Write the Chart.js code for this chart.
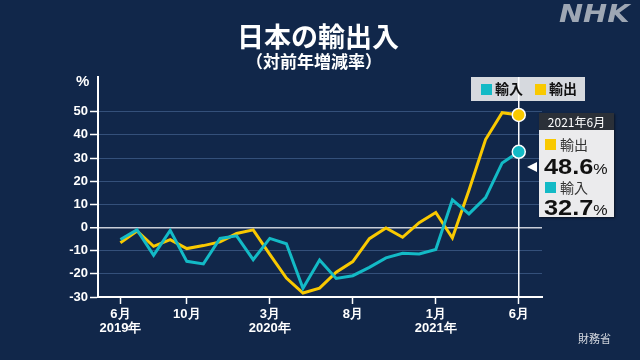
<!DOCTYPE html>
<html>
<head>
<meta charset="utf-8">
<script src="https://cdn.jsdelivr.net/npm/chart.js@4.4.0/dist/chart.umd.min.js"></script>
<style>
  body { margin: 0; width: 640px; height: 360px; overflow: hidden; position: relative;
         background: #11274a; color: #fff;
         font-family: "Liberation Sans", "Noto Sans CJK JP", sans-serif; }
  #chart { position: absolute; left: 0; top: 0; }
  .abs { position: absolute; white-space: nowrap; line-height: 1; }
  #title { left: 237px; top: 22px; font-size: 27px; font-weight: bold; font-family: "Noto Sans CJK JP", sans-serif; }
  #subtitle { left: 246px; top: 52px; font-size: 17px; font-weight: bold; font-family: "Noto Sans CJK JP", sans-serif; }
  #nhk { left: 559px; top: 2px; font-size: 24px; font-weight: bold; font-style: italic; color: #9ea7b4;
         font-family: "DejaVu Sans", sans-serif; transform: scaleX(1.2); transform-origin: left top; }
  #unit { left: 76px; top: 73px; font-size: 15px; font-weight: bold; }
  #source { left: 578px; top: 333px; font-size: 11px; color: #d3d7de; font-family: "Noto Sans CJK JP", sans-serif; }
  .sq { position: absolute; width: 11px; height: 11px; }
  .lg { position: absolute; font-size: 14px; font-weight: bold; color: #111; font-family: "Noto Sans CJK JP", sans-serif; line-height: 1; }
  #tip { left: 539px; top: 113px; width: 75px; height: 104px; background: #ebebed;
         box-shadow: 1px 1px 2px rgba(0,0,0,0.5); }
  #tipHead { position: absolute; left: 0; top: 0; width: 75px; height: 17px; background: #2b3038;
             color: #fff; font-size: 12px; text-align: center; line-height: 17px; font-family: "Noto Sans CJK JP", sans-serif; }
  .tl { position: absolute; left: 21px; font-size: 14px; color: #333; font-family: "Noto Sans CJK JP", sans-serif; line-height: 1; }
  .tv { position: absolute; left: 5px; font-size: 22px; font-weight: bold; color: #111; line-height: 1;
        transform: scaleX(1.15); transform-origin: left top; }
  .tv small { font-size: 14px; font-weight: normal; }
</style>
</head>
<body>
<canvas id="chart" width="640" height="360"></canvas>
<div class="abs" id="title">日本の輸出入</div>
<div class="abs" id="subtitle">（対前年増減率）</div>
<div class="abs" id="nhk">NHK</div>
<div class="abs" id="unit">%</div>
<div class="abs" id="source">財務省</div>

<div class="sq" style="left:481px;top:84px;background:#13bac6"></div>
<div class="lg" style="left:495px;top:81px">輸入</div>
<div class="sq" style="left:535px;top:84px;background:#f9c900"></div>
<div class="lg" style="left:549px;top:81px">輸出</div>

<div class="abs" id="tip">
  <div id="tipHead">2021年6月</div>
  <div class="sq" style="left:6px;top:26px;background:#f9c900"></div>
  <div class="tl" style="top:24px">輸出</div>
  <div class="tv" id="tipExp" style="top:43px"></div>
  <div class="sq" style="left:6px;top:69px;background:#13bac6"></div>
  <div class="tl" style="top:67px">輸入</div>
  <div class="tv" id="tipImp" style="top:84px"></div>
</div>

<script>
const months = [
  '2019年6月', '2019年7月', '2019年8月', '2019年9月', '2019年10月', '2019年11月', '2019年12月',
  '2020年1月', '2020年2月', '2020年3月', '2020年4月', '2020年5月', '2020年6月', '2020年7月',
  '2020年8月', '2020年9月', '2020年10月', '2020年11月', '2020年12月',
  '2021年1月', '2021年2月', '2021年3月', '2021年4月', '2021年5月', '2021年6月',
];

// 輸出 (exports), year-on-year %
const exportsYoY = [
  -6.6, -1.5, -8.1, -5.2, -9.1, -7.8, -6.2, -2.6, -1.0, -11.6, -21.8, -28.3, -26.2,
  -19.3, -14.7, -4.8, -0.2, -4.2, 2.1, 6.5, -4.5, 16.1, 38.0, 49.6, 48.6,
];

// 輸入 (imports), year-on-year %
const importsYoY = [
  -5.2, -1.0, -12.0, -1.2, -14.6, -15.7, -4.7, -3.6, -13.9, -4.7, -7.0, -26.2, -14.0,
  -22.0, -20.8, -17.2, -13.1, -11.1, -11.4, -9.5, 12.0, 5.9, 12.9, 27.9, 32.7,
];

const xTickIndex = [0, 4, 9, 14, 19, 24];
const xTickLabels = [['6月', '2019年'], ['10月'], ['3月', '2020年'], ['8月'], ['1月', '2021年'], ['6月']];
const yTicks = [-30, -20, -10, 0, 10, 20, 30, 40, 50];

const colors = { imports: '#13bac6', exports: '#f9c900' };
const last = months.length - 1;

document.getElementById('tipExp').innerHTML = exportsYoY[last].toFixed(1) + '<small>%</small>';
document.getElementById('tipImp').innerHTML = importsYoY[last].toFixed(1) + '<small>%</small>';

const toPoints = (arr) => arr.map((v, i) => ({ x: i, y: v }));

const overlay = {
  id: 'overlay',
  beforeDatasetsDraw(chart) {
    const ctx = chart.ctx;
    const x = chart.scales.x.getPixelForValue(last);
    ctx.save();
    // legend background
    ctx.fillStyle = '#d6d9de';
    ctx.fillRect(471, 77, 114, 24);
    // cursor line at latest month
    ctx.strokeStyle = '#ffffff';
    ctx.lineWidth = 1.5;
    ctx.beginPath();
    ctx.moveTo(x, 77);
    ctx.lineTo(x, chart.chartArea.bottom);
    ctx.stroke();
    ctx.restore();
  },
  afterDraw(chart) {
    const ctx = chart.ctx;
    ctx.save();
    ctx.fillStyle = '#ffffff';
    ctx.beginPath();
    ctx.moveTo(527, 167);
    ctx.lineTo(537, 162);
    ctx.lineTo(537, 172);
    ctx.closePath();
    ctx.fill();
    ctx.restore();
  },
};

new Chart(document.getElementById('chart').getContext('2d'), {
  type: 'line',
  data: {
    datasets: [
      {
        label: '輸入',
        data: toPoints(importsYoY),
        borderColor: colors.imports,
        backgroundColor: colors.imports,
        borderWidth: 3,
        tension: 0,
        pointRadius: (c) => (c.dataIndex === last ? 6.5 : 0),
        pointBorderColor: '#ffffff',
        pointBorderWidth: 1.5,
      },
      {
        label: '輸出',
        data: toPoints(exportsYoY),
        borderColor: colors.exports,
        backgroundColor: colors.exports,
        borderWidth: 3,
        tension: 0,
        pointRadius: (c) => (c.dataIndex === last ? 6.5 : 0),
        pointBorderColor: '#ffffff',
        pointBorderWidth: 1.5,
      },
    ],
  },
  options: {
    responsive: false,
    animation: false,
    events: [],
    layout: { padding: { left: 0, right: 98, top: 77, bottom: 0 } },
    plugins: {
      legend: { display: false },
      tooltip: { enabled: false },
    },
    scales: {
      x: {
        type: 'linear',
        min: -1.35,
        max: 25.4,
        afterBuildTicks: (s) => { s.ticks = xTickIndex.map((v) => ({ value: v })); },
        afterFit: (s) => { s.height = 63; },
        ticks: {
          autoSkip: false,
          maxRotation: 0,
          color: '#ffffff',
          padding: 4,
          font: { size: 13, weight: 'bold', lineHeight: 1.05 },
          callback: (v) => xTickLabels[xTickIndex.indexOf(v)],
        },
        grid: { drawOnChartArea: false, tickLength: 7, tickColor: '#ffffff', tickWidth: 1.5 },
        border: { color: '#ffffff', width: 2 },
      },
      y: {
        min: -30,
        max: 65,
        afterBuildTicks: (s) => { s.ticks = yTicks.map((v) => ({ value: v })); },
        afterFit: (s) => { s.width = 98; },
        ticks: {
          color: '#ffffff',
          padding: 2,
          font: { size: 13, weight: 'bold' },
        },
        grid: {
          color: (c) => (c.tick && c.tick.value === 0 ? '#c9ced8' : '#34507a'),
          lineWidth: (c) => (c.tick && c.tick.value === 0 ? 1.5 : 1),
          tickLength: 8,
          tickColor: '#ffffff',
          tickWidth: 1.5,
        },
        border: { color: '#ffffff', width: 2 },
      },
    },
  },
  plugins: [overlay],
});
</script>
</body>
</html>
